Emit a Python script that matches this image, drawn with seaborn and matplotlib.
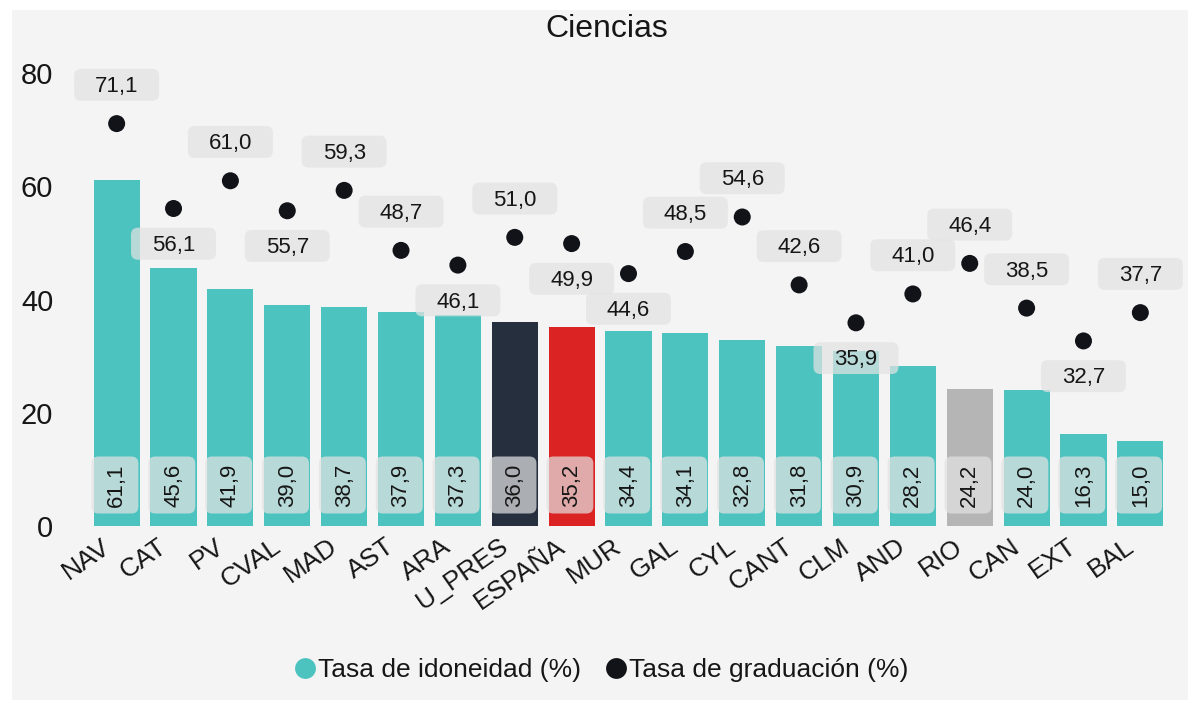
import numpy as np
import matplotlib
matplotlib.use("Agg")
import matplotlib.pyplot as plt
from matplotlib.patches import BoxStyle, Rectangle
from matplotlib.lines import Line2D
from matplotlib.transforms import ScaledTranslation
import seaborn as sns

# ---- data -------------------------------------------------------------
regions = ["NAV", "CAT", "PV", "CVAL", "MAD", "AST", "ARA", "U_PRES", "ESPAÑA",
           "MUR", "GAL", "CYL", "CANT", "CLM", "AND", "RIO", "CAN", "EXT", "BAL"]
idoneidad = [61.1, 45.6, 41.9, 39.0, 38.7, 37.9, 37.3, 36.0, 35.2,
             34.4, 34.1, 32.8, 31.8, 30.9, 28.2, 24.2, 24.0, 16.3, 15.0]
graduacion = [71.1, 56.1, 61.0, 55.7, 59.3, 48.7, 46.1, 51.0, 49.9,
              44.6, 48.5, 54.6, 42.6, 35.9, 41.0, 46.4, 38.5, 32.7, 37.7]
y_ticks = [0, 20, 40, 60, 80]
title = "Ciencias"
legend_labels = ["Tasa de idoneidad (%)", "Tasa de graduación (%)"]

# label side for graduation values: 1 above the dot, -1 below
grad_label_side = [1, -1, 1, -1, 1, 1, -1, 1, -1,
                   -1, 1, 1, 1, -1, 1, 1, 1, -1, 1]

# ---- style ------------------------------------------------------------
TEAL = "#4dc3bf"
NAVY = "#252f3e"
RED = "#dc2323"
GREY = "#b5b5b5"
DOT = "#111318"
PANEL = "#f4f4f4"
TEXT = "#161616"
BOX = (227 / 255, 227 / 255, 227 / 255, 0.71)

special = {"U_PRES": NAVY, "ESPAÑA": RED, "RIO": GREY}
bar_colors = [special.get(r, TEAL) for r in regions]

sns.set_style("white")
plt.rcParams["font.family"] = ["Liberation Sans", "DejaVu Sans"]

W_PX, H_PX, DPI = 1190, 702, 100
fig = plt.figure(figsize=(W_PX / DPI, H_PX / DPI), dpi=DPI, facecolor="white")

# light panel behind the whole chart
fig.patches.append(Rectangle((12 / W_PX, 2 / H_PX), 1176 / W_PX, 690 / H_PX,
                             transform=fig.transFigure, facecolor=PANEL,
                             edgecolor="none", zorder=-10))

ax_left, ax_right = 74, 1183
ax_bottom, ax_top = 526, 50.6  # pixel rows from the top
ax = fig.add_axes([ax_left / W_PX, 1 - ax_bottom / H_PX,
                   (ax_right - ax_left) / W_PX, (ax_bottom - ax_top) / H_PX])
ax.set_facecolor("none")
ax.patch.set_visible(False)

x = np.arange(len(regions))

sns.barplot(x=regions, y=idoneidad, hue=regions, palette=bar_colors,
            legend=False, width=0.81, saturation=1, linewidth=0,
            edgecolor="none", ax=ax, zorder=2)
sns.scatterplot(x=x, y=graduacion, color=DOT, s=150, edgecolor="none",
                ax=ax, zorder=4)


def fixed_box(w_px, h_px, r_px, lift=0.08):
    """Rounded box of fixed pixel size centred on the text."""
    def style(x0, y0, width, height, mutation_size):
        cx = x0 + width / 2
        cy = y0 + height / 2 + lift * mutation_size
        rnd = BoxStyle.Round(pad=0, rounding_size=r_px / mutation_size)
        return rnd(cx - w_px / 2, cy - h_px / 2, w_px, h_px, mutation_size)
    return style


def fmt(v):
    return f"{v:.1f}".replace(".", ",")


# graduation value labels
for xi, v, side in zip(x, graduacion, grad_label_side):
    ax.annotate(fmt(v), (xi, v), xytext=(0, 37 * side), textcoords="offset pixels",
                ha="center", va="center", fontsize=16, color=TEXT, zorder=5,
                bbox=dict(boxstyle=fixed_box(85, 32, 7), facecolor=BOX,
                          edgecolor="none"))

# idoneidad value labels near the bar base
for xi, v in zip(x, idoneidad):
    ax.annotate(fmt(v), (xi, 0), xytext=(0, 41), textcoords="offset pixels",
                ha="center", va="center", rotation=90, fontsize=16,
                color=TEXT, zorder=5,
                bbox=dict(boxstyle=fixed_box(57, 47, 7), facecolor=BOX,
                          edgecolor="none"))

ax.set_xlim(-0.75, len(regions) - 0.25)
ax.set_ylim(0, 84)
ax.tick_params(axis="y", length=0, pad=15)
ax.tick_params(axis="x", length=0, pad=6)
ax.set_yticks(y_ticks)
ax.set_yticklabels([str(t) for t in y_ticks], fontsize=21, color=TEXT)
ax.set_xticks(x)
ax.set_xticklabels(regions, rotation=35, ha="right", rotation_mode="anchor",
                   fontsize=19, color=TEXT)
# nudge the slanted category labels slightly to the left of each bar
shift = ScaledTranslation(-16 / DPI, 0, fig.dpi_scale_trans)
for lab in ax.get_xticklabels():
    lab.set_transform(lab.get_transform() + shift)
ax.set_xlabel("")
ax.set_ylabel("")
ax.grid(False)
sns.despine(ax=ax, left=True, bottom=True)

fig.text(607 / W_PX, 1 - 29 / H_PX, title, ha="center", va="center",
         fontsize=23, color=TEXT)

handles = [Line2D([], [], marker="o", linestyle="none", markersize=15,
                  markerfacecolor=c, markeredgecolor="none")
           for c in (TEAL, DOT)]
fig.legend(handles, legend_labels, loc="center",
           bbox_to_anchor=(600 / W_PX, 1 - 670 / H_PX), ncol=2, frameon=False,
           fontsize=19, handletextpad=0.0, columnspacing=0.8,
           handlelength=1.0, labelcolor=TEXT)

fig.savefig("out.png", dpi=DPI, facecolor="white")
